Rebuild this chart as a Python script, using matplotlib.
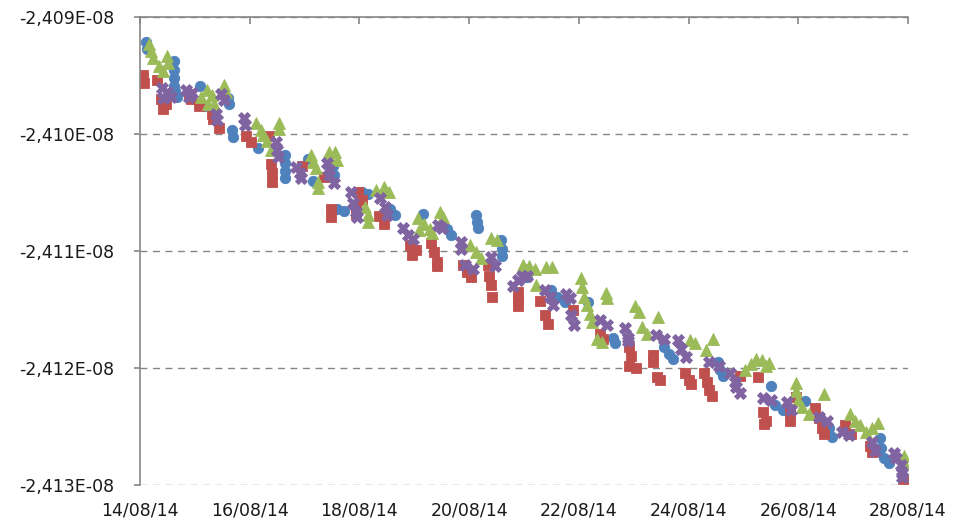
import matplotlib
matplotlib.use("Agg")
import matplotlib.pyplot as plt
import matplotlib.dates as mdates
import numpy as np
import pandas as pd

# time offsets in days from 14/08/2014, values in units of 1e-8
start = pd.Timestamp("2014-08-14")
y_ticks = [-2.413, -2.412, -2.411, -2.410, -2.409]

blue_days = [0.11, 0.13, 0.62, 0.62, 0.62, 0.62, 0.64, 0.67, 1.09, 1.16, 1.60, 1.62, 1.67, 1.69,
             2.16, 2.64, 2.64, 2.64, 2.65, 3.07, 3.16, 3.51, 3.53, 3.60, 3.71, 4.04, 4.16, 4.56,
             4.65, 5.16, 5.60, 5.67, 6.13, 6.15, 6.16, 6.58, 6.60, 6.60, 7.05, 7.49, 7.60, 7.75,
             8.16, 8.62, 8.65, 9.56, 9.64, 9.71, 10.53, 10.58, 10.62, 11.51, 11.58, 11.73, 12.13,
             12.56, 12.62, 13.49, 13.51, 13.56, 13.65]
blue_vals = [-2.40921, -2.40927, -2.40938, -2.40945, -2.40952, -2.40959, -2.40963, -2.40968,
             -2.40959, -2.40976, -2.40969, -2.40974, -2.40997, -2.41003, -2.41012, -2.41018,
             -2.41025, -2.41032, -2.41038, -2.41021, -2.41040, -2.41027, -2.41035, -2.41064,
             -2.41066, -2.41050, -2.41051, -2.41064, -2.41069, -2.41068, -2.41081, -2.41086,
             -2.41069, -2.41075, -2.41080, -2.41091, -2.41098, -2.41104, -2.41122, -2.41133,
             -2.41139, -2.41144, -2.41144, -2.41174, -2.41179, -2.41182, -2.41188, -2.41192,
             -2.41195, -2.41202, -2.41207, -2.41215, -2.41232, -2.41236, -2.41228, -2.41251,
             -2.41259, -2.41260, -2.41268, -2.41277, -2.41281]

red_days = [0.05, 0.07, 0.31, 0.38, 0.47, 0.42, 0.89, 0.93, 1.07, 1.31, 1.33, 1.44, 1.93, 2.02,
            2.38, 2.40, 2.40, 2.36, 2.95, 3.36, 3.49, 3.49, 3.98, 4.05, 3.93, 3.93, 4.35, 4.45,
            4.93, 5.04, 4.95, 5.31, 5.36, 5.42, 5.42, 5.89, 5.96, 6.04, 6.35, 6.36, 6.40, 6.42,
            6.89, 6.89, 6.89, 7.29, 7.38, 7.44, 7.89, 8.38, 8.44, 8.91, 8.95, 8.91, 9.04, 9.35,
            9.35, 9.42, 9.47, 9.93, 10.00, 10.05, 10.29, 10.33, 10.38, 10.42, 10.93, 11.27,
            11.35, 11.42, 11.38, 11.85, 11.85, 11.95, 12.31, 12.38, 12.44, 12.47, 12.85, 12.96,
            13.31, 13.35, 13.91]
red_vals = [-2.40950, -2.40956, -2.40954, -2.40970, -2.40974, -2.40979, -2.40966, -2.40970,
            -2.40976, -2.40983, -2.40987, -2.40995, -2.41002, -2.41007, -2.41026, -2.41033,
            -2.41041, -2.41002, -2.41027, -2.41037, -2.41064, -2.41071, -2.41050, -2.41056,
            -2.41062, -2.41068, -2.41070, -2.41077, -2.41095, -2.41099, -2.41103, -2.41093,
            -2.41101, -2.41109, -2.41113, -2.41112, -2.41118, -2.41122, -2.41112, -2.41121,
            -2.41129, -2.41139, -2.41135, -2.41142, -2.41147, -2.41143, -2.41155, -2.41162,
            -2.41150, -2.41171, -2.41175, -2.41182, -2.41190, -2.41198, -2.41200, -2.41189,
            -2.41195, -2.41208, -2.41210, -2.41204, -2.41210, -2.41214, -2.41204, -2.41212,
            -2.41219, -2.41224, -2.41207, -2.41208, -2.41238, -2.41245, -2.41248, -2.41238,
            -2.41245, -2.41225, -2.41234, -2.41243, -2.41251, -2.41256, -2.41249, -2.41256,
            -2.41267, -2.41272, -2.41295]

green_days = [0.16, 0.20, 0.24, 0.35, 0.42, 0.49, 0.51, 1.11, 1.22, 1.31, 1.24, 1.35, 1.53, 1.56,
              2.11, 2.20, 2.25, 2.31, 2.38, 2.53, 2.53, 3.11, 3.16, 3.20, 3.24, 3.24, 3.44, 3.47,
              3.56, 3.60, 4.31, 4.45, 4.53, 4.11, 4.15, 4.16, 5.07, 5.18, 5.29, 5.09, 5.33, 5.47,
              5.53, 6.02, 6.13, 6.22, 6.40, 6.51, 6.98, 7.04, 7.09, 7.20, 7.40, 7.51, 7.22, 8.04,
              8.05, 8.09, 8.15, 8.20, 8.24, 8.49, 8.51, 8.33, 8.42, 9.02, 9.09, 9.16, 9.24, 9.45,
              10.02, 10.11, 10.44, 10.31, 11.02, 11.13, 11.22, 11.33, 11.42, 11.47, 11.95, 11.96,
              12.00, 12.07, 12.20, 12.47, 12.95, 13.04, 13.13, 13.24, 13.35, 13.45, 13.93, 13.93]
green_vals = [-2.40923, -2.40929, -2.40935, -2.40942, -2.40946, -2.40933, -2.40939, -2.40968,
              -2.40962, -2.40967, -2.40974, -2.40974, -2.40958, -2.40964, -2.40991, -2.40997,
              -2.41001, -2.41006, -2.41014, -2.40991, -2.40996, -2.41018, -2.41024, -2.41029,
              -2.41041, -2.41046, -2.41015, -2.41021, -2.41015, -2.41022, -2.41048, -2.41045,
              -2.41050, -2.41062, -2.41069, -2.41075, -2.41072, -2.41077, -2.41081, -2.41082,
              -2.41085, -2.41067, -2.41071, -2.41095, -2.41101, -2.41106, -2.41089, -2.41091,
              -2.41112, -2.41116, -2.41113, -2.41115, -2.41114, -2.41114, -2.41129, -2.41123,
              -2.41131, -2.41139, -2.41146, -2.41154, -2.41161, -2.41136, -2.41140, -2.41175,
              -2.41178, -2.41147, -2.41152, -2.41165, -2.41171, -2.41156, -2.41176, -2.41179,
              -2.41175, -2.41185, -2.41202, -2.41197, -2.41192, -2.41193, -2.41198, -2.41196,
              -2.41213, -2.41220, -2.41227, -2.41233, -2.41239, -2.41222, -2.41239, -2.41245,
              -2.41249, -2.41255, -2.41251, -2.41247, -2.41275, -2.41281]

purple_days = [0.40, 0.49, 0.56, 0.42, 0.84, 0.95, 0.89, 1.47, 1.53, 1.38, 1.40, 1.89, 1.91, 2.47,
               2.49, 2.51, 2.85, 2.91, 2.93, 3.40, 3.44, 3.44, 3.53, 3.84, 3.89, 3.93, 3.96, 4.38,
               4.47, 4.51, 4.80, 4.89, 4.98, 5.44, 5.51, 5.85, 5.85, 5.93, 6.07, 6.40, 6.47, 6.80,
               6.89, 6.96, 7.05, 7.38, 7.47, 7.53, 7.76, 7.84, 7.85, 7.91, 8.38, 8.51, 8.84, 8.89,
               8.89, 9.40, 9.55, 9.80, 9.87, 9.96, 10.38, 10.55, 10.76, 10.84, 10.87, 10.93, 11.35,
               11.51, 11.80, 11.87, 12.38, 12.53, 12.80, 12.93, 13.35, 13.40, 13.75, 13.78, 13.87,
               13.89, 13.89]
purple_vals = [-2.40961, -2.40964, -2.40968, -2.40969, -2.40962, -2.40965, -2.40968, -2.40966,
               -2.40971, -2.40983, -2.40988, -2.40986, -2.40992, -2.41007, -2.41014, -2.41020,
               -2.41028, -2.41033, -2.41038, -2.41025, -2.41031, -2.41035, -2.41042, -2.41050,
               -2.41059, -2.41067, -2.41071, -2.41055, -2.41062, -2.41069, -2.41080, -2.41086,
               -2.41090, -2.41078, -2.41080, -2.41092, -2.41098, -2.41112, -2.41115, -2.41105,
               -2.41113, -2.41130, -2.41125, -2.41121, -2.41121, -2.41133, -2.41139, -2.41146,
               -2.41137, -2.41140, -2.41155, -2.41163, -2.41159, -2.41163, -2.41166, -2.41174,
               -2.41177, -2.41172, -2.41175, -2.41176, -2.41184, -2.41191, -2.41195, -2.41198,
               -2.41204, -2.41212, -2.41216, -2.41221, -2.41226, -2.41227, -2.41229, -2.41236,
               -2.41242, -2.41245, -2.41255, -2.41257, -2.41263, -2.41271, -2.41273, -2.41277,
               -2.41283, -2.41290, -2.41293]

series = [
    (blue_days, blue_vals, "#4F81BD", "o", 7.5),
    (red_days, red_vals, "#C0504D", "s", 7.5),
    (green_days, green_vals, "#9BBB59", "^", 8.5),
    (purple_days, purple_vals, "#8064A2", "X", 8.5),
]

plt.rcParams["font.family"] = ["DejaVu Sans"]

fig = plt.figure(figsize=(9.57, 5.24), dpi=100)
ax = fig.add_axes([0.1463, 0.0744, 0.8025, 0.8932])

for days, vals, color, marker, size in series:
    t = start + pd.to_timedelta(np.array(days), unit="D")
    ax.plot(t, np.array(vals) * 1e-8, linestyle="none", marker=marker,
            markersize=size, color=color, markeredgewidth=0.6)

ax.set_xlim(start, start + pd.Timedelta(days=14))
ax.set_ylim(y_ticks[0] * 1e-8, y_ticks[-1] * 1e-8)

ax.xaxis.set_major_locator(mdates.DayLocator(interval=2))
ax.xaxis.set_major_formatter(mdates.DateFormatter("%d/%m/%y"))
ax.set_yticks([v * 1e-8 for v in y_ticks])
ax.set_yticklabels([f"{v:.3f}".replace(".", ",") + "E-08" for v in y_ticks])

ax.grid(axis="y", color="#868686", linestyle=(0, (5, 4)), linewidth=1.0)
ax.set_axisbelow(True)

for side in ["right", "bottom"]:
    ax.spines[side].set_visible(False)
for side in ["top", "left"]:
    ax.spines[side].set_color("#868686")
    ax.spines[side].set_linewidth(1.2)

ax.tick_params(axis="x", top=True, bottom=False, labeltop=False, labelbottom=True,
               direction="in", length=5, width=1.2, color="#868686",
               labelsize=12.5, labelcolor="#1a1a1a", pad=12)
ax.tick_params(axis="y", direction="out", length=4.5, width=1.2, color="#868686",
               labelsize=12.5, labelcolor="#1a1a1a", pad=14)

fig.savefig("out.png", dpi=100)
